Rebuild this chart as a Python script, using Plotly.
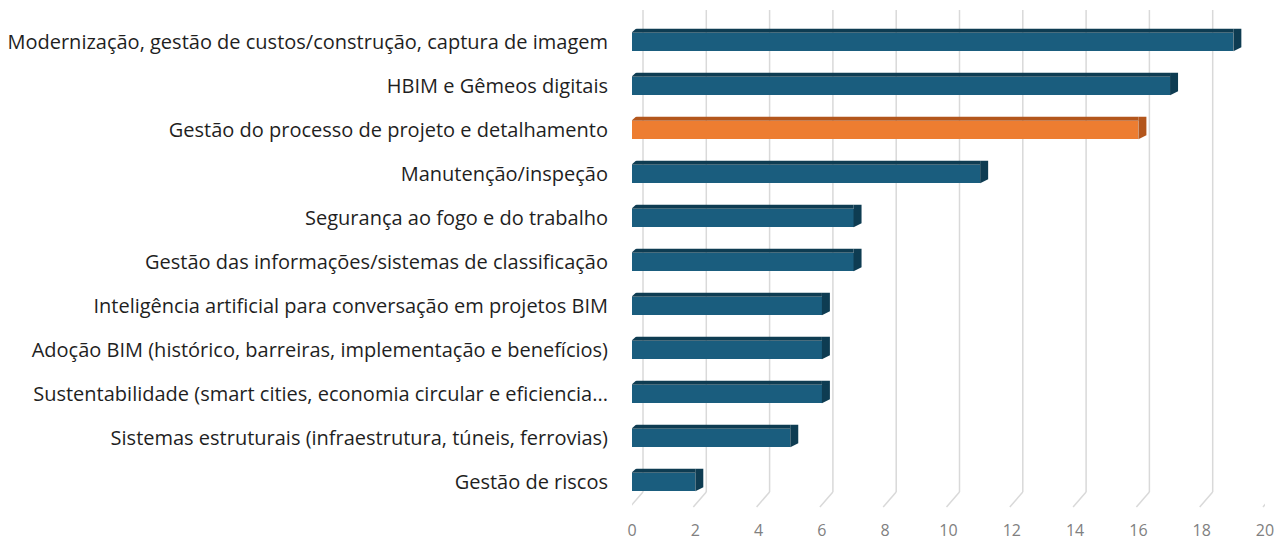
import plotly.graph_objects as go

categories = [
    "Modernização, gestão de custos/construção, captura de imagem",
    "HBIM e Gêmeos digitais",
    "Gestão do processo de projeto e detalhamento",
    "Manutenção/inspeção",
    "Segurança ao fogo e do trabalho",
    "Gestão das informações/sistemas de classificação",
    "Inteligência artificial para conversação em projetos BIM",
    "Adoção BIM (histórico, barreiras, implementação e benefícios)",
    "Sustentabilidade (smart cities, economia circular e eficiencia...",
    "Sistemas estruturais (infraestrutura, túneis, ferrovias)",
    "Gestão de riscos",
]
values = [19, 17, 16, 11, 7, 7, 6, 6, 6, 5, 2]
highlight = [False, False, True, False, False, False, False, False, False, False, False]
x_ticks = [0, 2, 4, 6, 8, 10, 12, 14, 16, 18, 20]

BLUE, BLUE_DARK = "#1a5d7e", "#0e3c52"
ORANGE, ORANGE_DARK = "#ed7d31", "#b3561c"

ypos = list(range(len(categories)))
face_colors = [ORANGE if h else BLUE for h in highlight]
dark_colors = [ORANGE_DARK if h else BLUE_DARK for h in highlight]

BAR_W = 0.42
PX_PER_CAT = 44
half = BAR_W / 2 * PX_PER_CAT
DEPTH_X, DEPTH_Y = 8, 4

fig = go.Figure()
fig.add_trace(go.Bar(
    x=values, y=ypos, orientation="h", width=BAR_W,
    marker=dict(color=face_colors, line=dict(width=0)),
    hoverinfo="x+text", text=categories, textposition="none",
))

shapes = []
# perspective gridlines: back wall vertical + floor slant
for v in x_ticks:
    shapes.append(dict(type="line", layer="below", xref="x", xsizemode="pixel", xanchor=v,
                       x0=11, x1=11, yref="paper", ysizemode="pixel", yanchor=0,
                       y0=15, y1=497, line=dict(color="#d9d9d9", width=1.5)))
    shapes.append(dict(type="line", layer="below", xref="x", xsizemode="pixel", xanchor=v,
                       x0=-2, x1=11, yref="paper", ysizemode="pixel", yanchor=0,
                       y0=0, y1=15, line=dict(color="#d9d9d9", width=1.5)))
# 3D faces for bars
for i, (v, dc) in enumerate(zip(values, dark_colors)):
    shapes.append(dict(type="rect", layer="above", xref="x", x0=0, x1=v,
                       yref="y", ysizemode="pixel", yanchor=i, y0=half, y1=half + DEPTH_Y,
                       fillcolor=dc, line=dict(width=0)))
    shapes.append(dict(type="path", layer="above", xref="x", xsizemode="pixel", xanchor=v,
                       yref="y", ysizemode="pixel", yanchor=i,
                       path=f"M0,{-half} L0,{half + DEPTH_Y} L{DEPTH_X},{half + DEPTH_Y} L{DEPTH_X},{-half + DEPTH_Y} Z",
                       fillcolor=dc, line=dict(width=0)))
    # chamfer at the top-left corner
    shapes.append(dict(type="path", layer="above", xref="x", xsizemode="pixel", xanchor=0,
                       yref="y", ysizemode="pixel", yanchor=i,
                       path=f"M-1,{half - 0.5} L-1,{half + DEPTH_Y + 1} L{DEPTH_X - 3},{half + DEPTH_Y + 1} Z",
                       fillcolor="white", line=dict(width=0)))

fig.update_layout(
    width=1275, height=540,
    margin=dict(l=632, r=10, t=10, b=33, autoexpand=False),
    paper_bgcolor="white", plot_bgcolor="white",
    showlegend=False, bargap=0,
    shapes=shapes,
    font=dict(family="Open Sans, Roboto, sans-serif"),
    xaxis=dict(range=[0, 20], tickvals=x_ticks, showgrid=False, zeroline=False,
               showline=False, ticklabelstandoff=12, automargin=False,
               tickfont=dict(size=16, color="#808080")),
    yaxis=dict(range=[10 + 25 / 44, -32 / 44], tickvals=ypos, ticktext=categories,
               showgrid=False, zeroline=False, showline=False, ticklabelstandoff=23,
               automargin=False,
               tickfont=dict(size=20, color="#1f1f1f")),
)

fig.write_html("out.html")
